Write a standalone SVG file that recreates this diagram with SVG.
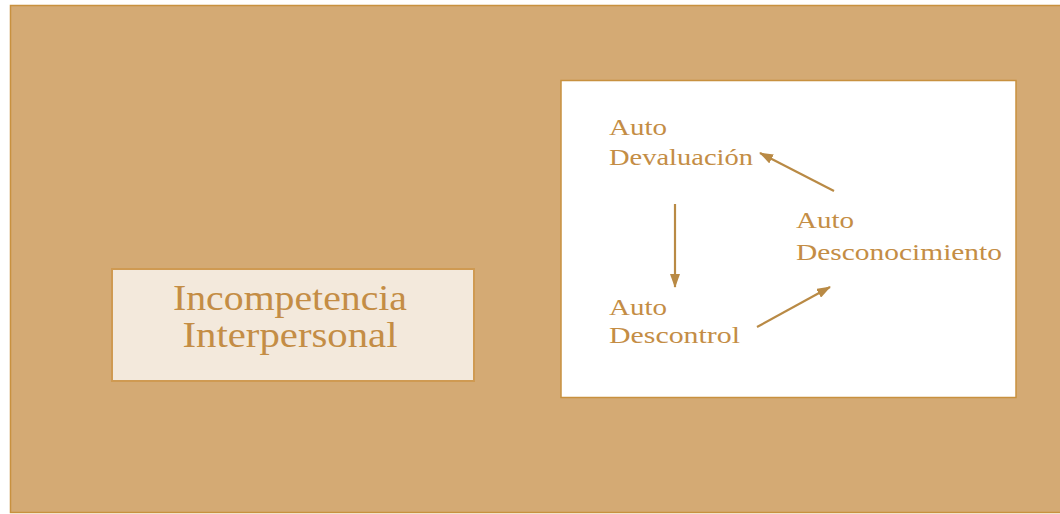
<svg xmlns="http://www.w3.org/2000/svg" width="1060" height="514" viewBox="0 0 1060 514">
<style>
.t{font-family:"Liberation Serif","DejaVu Serif",serif;fill:#C48D45}
.big{font-size:35px}
.sm{font-size:23px}
.conn line{stroke:#B98A45;stroke-width:2.2}
</style>
<defs>
<marker id="ah" viewBox="0 0 14 10" refX="13" refY="5" markerWidth="14" markerHeight="10" markerUnits="userSpaceOnUse" orient="auto">
<path d="M0,0 L14,5 L0,10 Z" fill="#B98A45"/>
</marker>
</defs>
<rect x="0" y="0" width="1060" height="514" fill="#ffffff"/>
<g id="background">
<rect x="10.5" y="5.5" width="1070" height="507" fill="#D4AA74" stroke="#C8913F" stroke-width="1.5"/>
</g>
<g id="incompetencia">
<rect x="112" y="269" width="362" height="112" fill="#F3E9DC" stroke="#CF9A52" stroke-width="2"/>
<text class="t big" x="290" y="310" text-anchor="middle" textLength="234" lengthAdjust="spacingAndGlyphs">Incompetencia</text>
<text class="t big" x="290" y="347" text-anchor="middle" textLength="215" lengthAdjust="spacingAndGlyphs">Interpersonal</text>
</g>
<g id="cycle-panel">
<rect x="561" y="80.5" width="455" height="317" fill="#ffffff" stroke="#C8913F" stroke-width="1.5"/>
</g>
<g id="devaluacion">
<text class="t sm" x="609" y="135" textLength="58" lengthAdjust="spacingAndGlyphs">Auto</text>
<text class="t sm" x="609" y="165" textLength="144" lengthAdjust="spacingAndGlyphs">Devaluación</text>
</g>
<g id="desconocimiento">
<text class="t sm" x="796" y="228" textLength="58" lengthAdjust="spacingAndGlyphs">Auto</text>
<text class="t sm" x="796" y="260" textLength="206" lengthAdjust="spacingAndGlyphs">Desconocimiento</text>
</g>
<g id="descontrol">
<text class="t sm" x="609" y="315" textLength="58" lengthAdjust="spacingAndGlyphs">Auto</text>
<text class="t sm" x="609" y="343" textLength="131" lengthAdjust="spacingAndGlyphs">Descontrol</text>
</g>
<g id="connectors" class="conn">
<line x1="675" y1="204" x2="675" y2="287" marker-end="url(#ah)"/>
<line x1="757" y1="327" x2="830" y2="287" marker-end="url(#ah)"/>
<line x1="834" y1="191" x2="760" y2="153" marker-end="url(#ah)"/>
</g>
</svg>
